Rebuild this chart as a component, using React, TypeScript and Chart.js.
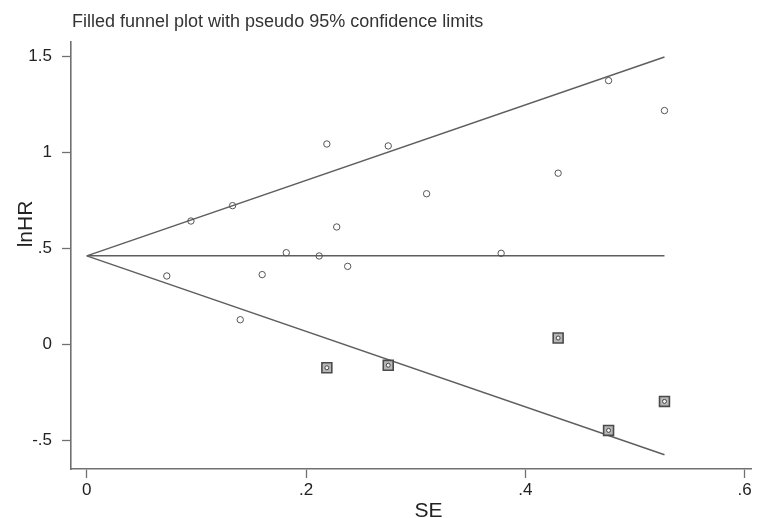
import React, { useEffect, useRef } from "react";
import { Chart, registerables } from "chart.js";

Chart.register(...registerables);

// ---- data ----
const observedSE = [0.073, 0.095, 0.133, 0.140, 0.160, 0.182, 0.212, 0.219, 0.228, 0.238, 0.275, 0.310, 0.378, 0.430, 0.476, 0.527];
const observedLnHR = [0.357, 0.643, 0.723, 0.129, 0.364, 0.478, 0.461, 1.044, 0.612, 0.407, 1.034, 0.785, 0.475, 0.892, 1.374, 1.218];
const filledSE = [0.219, 0.275, 0.430, 0.476, 0.527];
const filledLnHR = [-0.121, -0.108, 0.034, -0.447, -0.296];

const funnelSE = [0, 0.527];
const upperLimit = [0.462, 1.497];
const lowerLimit = [0.462, -0.574];
const pooledLnHR = [0.462, 0.462];

const xTicks = [0, 0.2, 0.4, 0.6];
const yTicks = [-0.5, 0, 0.5, 1, 1.5];

const titleText = "Filled funnel plot with pseudo 95% confidence limits";
const xTitle = "SE";
const yTitle = "lnHR";

const FONT = '"Liberation Sans", Arial, Helvetica, sans-serif';
const AXIS = "#707070";
const LINE = "#5e5e5e";
const MARK = "#555555";

const fmt = (v: number) => (v === 0 ? "0" : String(v).replace(/^(-?)0\./, "$1."));
const pts = (xs: number[], ys: number[]) => xs.map((x, i) => ({ x, y: ys[i] }));

const textPlugin = {
  id: "stataText",
  afterDraw(chart: any) {
    const ctx = chart.ctx as CanvasRenderingContext2D;
    const { left } = chart.chartArea;
    ctx.save();
    ctx.fillStyle = "#333";
    ctx.font = `18px ${FONT}`;
    ctx.textAlign = "left";
    ctx.textBaseline = "alphabetic";
    ctx.fillText(titleText, left + 1, 27);
    ctx.fillStyle = "#222";
    ctx.font = `21px ${FONT}`;
    ctx.textAlign = "center";
    ctx.fillText(xTitle, 428.5, 516.5);
    ctx.translate(31.5, 224);
    ctx.rotate(-Math.PI / 2);
    ctx.fillText(yTitle, 0, 0);
    ctx.restore();
  },
};

export default function App() {
  const ref = useRef<HTMLCanvasElement>(null);

  useEffect(() => {
    const lineDs = (ys: number[]) => ({
      type: "line" as const,
      data: pts(funnelSE, ys),
      showLine: true,
      borderColor: LINE,
      borderWidth: 1.4,
      pointRadius: 0,
      fill: false,
      order: 3,
    });

    const chart = new Chart(ref.current!, {
      type: "scatter",
      data: {
        datasets: [
          lineDs(upperLimit),
          lineDs(lowerLimit),
          lineDs(pooledLnHR),
          {
            data: pts(filledSE, filledLnHR),
            pointStyle: "rect",
            pointRadius: 7,
            borderColor: "#4a4a4a",
            borderWidth: 1.6,
            backgroundColor: "#b8b8b8",
            order: 2,
          } as any,
          {
            data: pts(filledSE, filledLnHR),
            pointStyle: "circle",
            pointRadius: 2,
            borderColor: "#444",
            borderWidth: 1,
            backgroundColor: "#f4f4f4",
            order: 1,
          } as any,
          {
            data: pts(observedSE, observedLnHR),
            pointStyle: "circle",
            pointRadius: 3.2,
            borderColor: MARK,
            borderWidth: 1,
            backgroundColor: "rgba(0,0,0,0)",
            order: 0,
          } as any,
        ],
      },
      options: {
        animation: false,
        responsive: false,
        devicePixelRatio: 1,
        layout: { padding: { top: 42, left: 0, right: 0, bottom: 0 } },
        plugins: { legend: { display: false }, tooltip: { enabled: false }, title: { display: false } },
        scales: {
          x: {
            type: "linear",
            min: -0.0144,
            max: 0.6063,
            afterBuildTicks: (s: any) => {
              s.ticks = xTicks.map((v) => ({ value: v }));
            },
            afterFit: (s: any) => {
              s.height = 49;
              s.paddingLeft = 0;
              s.paddingRight = 0;
            },
            ticks: {
              callback: (v: any) => fmt(Number(v)),
              font: { family: FONT, size: 17 },
              color: "#222",
              padding: 2,
              maxRotation: 0,
              autoSkip: false,
            },
            grid: { drawOnChartArea: false, drawTicks: true, tickLength: 9, tickColor: AXIS, tickWidth: 1.3 },
            border: { display: true, color: AXIS, width: 1.6 },
          },
          y: {
            type: "linear",
            min: -0.648,
            max: 1.575,
            afterBuildTicks: (s: any) => {
              s.ticks = yTicks.map((v) => ({ value: v }));
            },
            afterFit: (s: any) => {
              s.width = 71;
              s.paddingTop = 0;
              s.paddingBottom = 0;
            },
            ticks: {
              callback: (v: any) => fmt(Number(v)),
              font: { family: FONT, size: 17 },
              color: "#222",
              padding: 10,
              autoSkip: false,
            },
            grid: { drawOnChartArea: false, drawTicks: true, tickLength: 9, tickColor: AXIS, tickWidth: 1.3 },
            border: { display: true, color: AXIS, width: 1.6 },
          },
        },
      } as any,
      plugins: [textPlugin],
    });
    return () => chart.destroy();
  }, []);

  return (
    <div style={{ position: "fixed", left: 0, top: 0, width: 760, height: 518, background: "#fff" }}>
      <canvas ref={ref} width={760} height={518} style={{ display: "block", width: 760, height: 518 }} />
    </div>
  );
}
